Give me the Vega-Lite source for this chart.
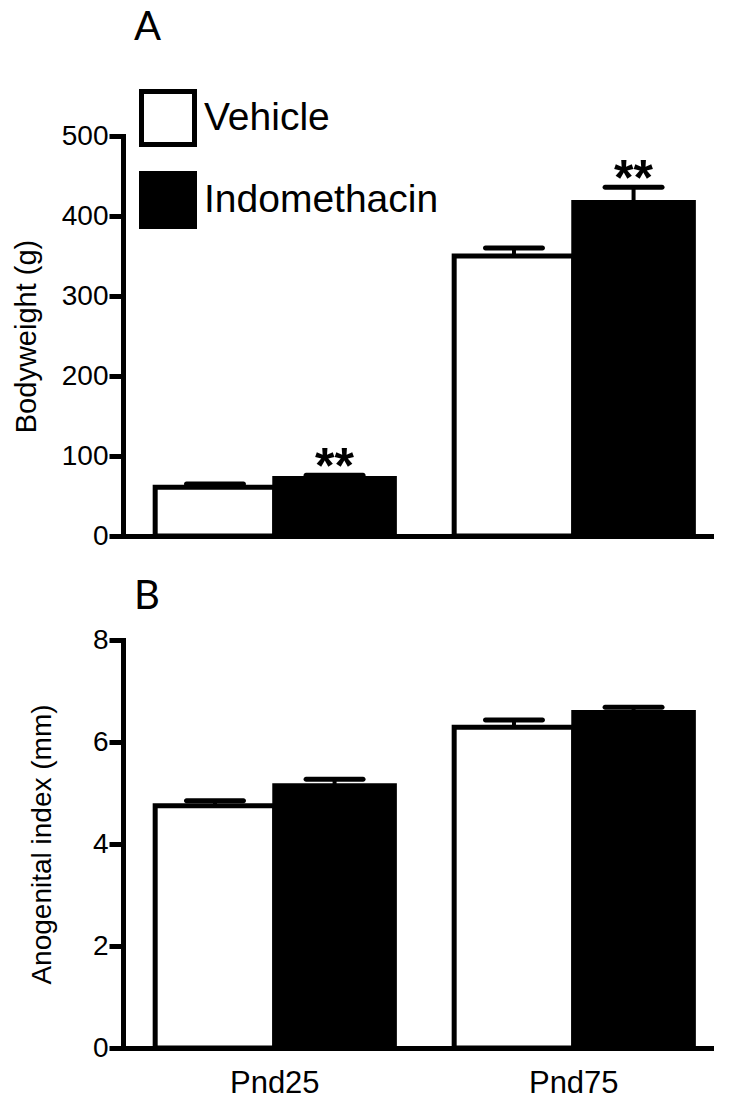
{
  "$schema": "https://vega.github.io/schema/vega-lite/v6.json",
  "background": "white",
  "padding": {"left": 12, "top": 8, "right": 5, "bottom": 5},
  "datasets": {
    "bw": [
      {"age": "Pnd25", "treatment": "Vehicle", "mean": 61, "sem_top": 65, "sig": ""},
      {"age": "Pnd25", "treatment": "Indomethacin", "mean": 72, "sem_top": 76, "sig": "**"},
      {"age": "Pnd75", "treatment": "Vehicle", "mean": 350, "sem_top": 360, "sig": ""},
      {"age": "Pnd75", "treatment": "Indomethacin", "mean": 417, "sem_top": 436, "sig": "**"}
    ],
    "agi": [
      {"age": "Pnd25", "treatment": "Vehicle", "mean": 4.75, "sem_top": 4.85},
      {"age": "Pnd25", "treatment": "Indomethacin", "mean": 5.14, "sem_top": 5.27},
      {"age": "Pnd75", "treatment": "Vehicle", "mean": 6.29, "sem_top": 6.43},
      {"age": "Pnd75", "treatment": "Indomethacin", "mean": 6.58, "sem_top": 6.68}
    ]
  },
  "config": {
    "view": {"stroke": null},
    "axis": {
      "domainColor": "black", "domainWidth": 5, "domainCap": "square",
      "tickColor": "black", "tickWidth": 5,
      "labelColor": "black", "titleColor": "black", "grid": false
    }
  },
  "spacing": 27,
  "resolve": {"scale": {"fill": "independent"}, "legend": {"fill": "independent"}},
  "vconcat": [
    {
      "data": {"name": "bw"},
      "width": 588,
      "height": 400,
      "title": {"text": "A", "anchor": "start", "frame": "group", "font": "Lato", "fontSize": 40, "fontWeight": "normal", "color": "black", "dx": 11, "offset": 41},
      "encoding": {
        "x": {"field": "age", "type": "nominal", "sort": ["Pnd25", "Pnd75"],
              "scale": {"paddingInner": 0.2, "paddingOuter": 0.0833, "align": 0.646},
              "axis": {"title": null, "labels": false, "ticks": false}},
        "xOffset": {"field": "treatment", "type": "nominal", "sort": ["Vehicle", "Indomethacin"],
                    "scale": {"paddingInner": 0, "paddingOuter": 0}}
      },
      "layer": [
        {
          "mark": {"type": "bar", "stroke": "black", "strokeWidth": 5},
          "encoding": {
            "y": {"field": "mean", "type": "quantitative", "scale": {"domain": [0, 500]},
                  "axis": {"title": "Bodyweight (g)", "values": [0, 100, 200, 300, 400, 500],
                           "tickSize": 14, "labelPadding": 1, "labelFont": "Liberation Sans", "labelFontSize": 28,
                           "titleFont": "Liberation Sans", "titleFontSize": 29, "titleFontWeight": "normal", "titlePadding": 20}},
            "fill": {"field": "treatment", "type": "nominal",
                     "scale": {"domain": ["Vehicle", "Indomethacin"], "range": ["white", "black"]},
                     "legend": {"orient": "none", "legendX": 16, "legendY": -47, "title": null,
                                "symbolType": "square", "symbolSize": 2809, "symbolStrokeColor": "black",
                                "symbolStrokeWidth": 5, "labelFont": "Liberation Sans", "labelFontSize": 39,
                                "labelColor": "black", "rowPadding": 8, "labelOffset": 7, "labelLimit": 400}}
          }
        },
        {
          "mark": {"type": "rule", "strokeWidth": 4, "color": "black"},
          "encoding": {"y": {"field": "mean", "type": "quantitative"}, "y2": {"field": "sem_top"}}
        },
        {
          "mark": {"type": "tick", "thickness": 5, "size": 62, "color": "black", "cornerRadius": 2.5, "opacity": 1},
          "encoding": {"y": {"field": "sem_top", "type": "quantitative"}}
        },
        {
          "mark": {"type": "text", "font": "Liberation Sans", "fontSize": 50, "fontWeight": "bold", "color": "black", "baseline": "alphabetic", "dy": 8},
          "encoding": {"y": {"field": "sem_top", "type": "quantitative"}, "text": {"field": "sig"}}
        }
      ]
    },
    {
      "data": {"name": "agi"},
      "width": 588,
      "height": 408,
      "title": {"text": "B", "anchor": "start", "frame": "group", "font": "Lato", "fontSize": 40, "fontWeight": "normal", "color": "black", "dx": 11, "offset": 9},
      "encoding": {
        "x": {"field": "age", "type": "nominal", "sort": ["Pnd25", "Pnd75"],
              "scale": {"paddingInner": 0.2, "paddingOuter": 0.0833, "align": 0.646},
              "axis": {"title": null, "ticks": false, "labelAngle": 0, "labelFont": "Liberation Sans", "labelFontSize": 31, "labelPadding": 20}},
        "xOffset": {"field": "treatment", "type": "nominal", "sort": ["Vehicle", "Indomethacin"],
                    "scale": {"paddingInner": 0, "paddingOuter": 0}}
      },
      "layer": [
        {
          "mark": {"type": "bar", "stroke": "black", "strokeWidth": 5},
          "encoding": {
            "y": {"field": "mean", "type": "quantitative", "scale": {"domain": [0, 8]},
                  "axis": {"title": "Anogenital index (mm)", "values": [0, 2, 4, 6, 8],
                           "tickSize": 14, "labelPadding": 1, "labelFont": "Liberation Sans", "labelFontSize": 28,
                           "titleFont": "Liberation Sans", "titleFontSize": 28, "titleFontWeight": "normal", "titlePadding": 36}},
            "fill": {"field": "treatment", "type": "nominal",
                     "scale": {"domain": ["Vehicle", "Indomethacin"], "range": ["white", "black"]},
                     "legend": null}
          }
        },
        {
          "mark": {"type": "rule", "strokeWidth": 4, "color": "black"},
          "encoding": {"y": {"field": "mean", "type": "quantitative"}, "y2": {"field": "sem_top"}}
        },
        {
          "mark": {"type": "tick", "thickness": 5, "size": 62, "color": "black", "cornerRadius": 2.5, "opacity": 1},
          "encoding": {"y": {"field": "sem_top", "type": "quantitative"}}
        }
      ]
    }
  ]
}
